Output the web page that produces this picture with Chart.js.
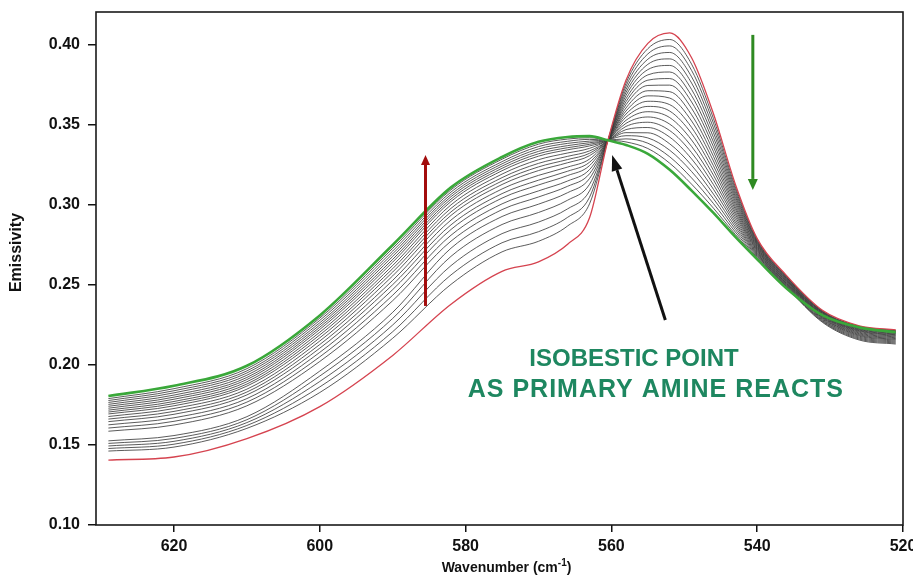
<!DOCTYPE html>
<html>
<head>
<meta charset="utf-8">
<script src="https://cdn.jsdelivr.net/npm/chart.js@4.4.1/dist/chart.umd.min.js"></script>
<style>
  html, body { margin: 0; padding: 0; background: #ffffff; }
  canvas { display: block; }
</style>
</head>
<body>
<canvas id="spectra" width="913" height="578"></canvas>
<script>
// Wavenumbers (cm-1) at which each emission spectrum was sampled, high to low.
const WAVENUMBERS = [629, 620, 610, 600, 590, 582, 575, 570, 566, 563, 560.5, 558, 555, 552, 549, 546, 543, 540, 536, 531, 526, 521];

// First spectrum of the series (red) and last spectrum (green).
const INITIAL_SPECTRUM = [0.1406, 0.1425, 0.1540, 0.1740, 0.2060, 0.2380, 0.2585, 0.2645, 0.2755, 0.2920, 0.3400, 0.3780, 0.4010, 0.4075, 0.3920, 0.3570, 0.3130, 0.2790, 0.2560, 0.2340, 0.2245, 0.2220];
const FINAL_SPECTRUM   = [0.1806, 0.1870, 0.1995, 0.2310, 0.2750, 0.3110, 0.3300, 0.3395, 0.3425, 0.3430, 0.3405, 0.3375, 0.3320, 0.3220, 0.3090, 0.2950, 0.2800, 0.2660, 0.2480, 0.2310, 0.2235, 0.2205];

// Intermediate scans recorded while the reaction proceeds.
const SCAN_01 = [0.1462, 0.1487, 0.1604, 0.1828, 0.2167, 0.2504, 0.2707, 0.2773, 0.2869, 0.3007, 0.3400, 0.3761, 0.3977, 0.4034, 0.3880, 0.3540, 0.3114, 0.2784, 0.2556, 0.2337, 0.2242, 0.2217];
const SCAN_02 = [0.1478, 0.1505, 0.1622, 0.1863, 0.2208, 0.2563, 0.2764, 0.2833, 0.2923, 0.3048, 0.3402, 0.3742, 0.3944, 0.3994, 0.3841, 0.3511, 0.3099, 0.2778, 0.2552, 0.2334, 0.2239, 0.2214];
const SCAN_03 = [0.1494, 0.1523, 0.1640, 0.1897, 0.2250, 0.2621, 0.2821, 0.2893, 0.2976, 0.3088, 0.3399, 0.3722, 0.3911, 0.3953, 0.3801, 0.3481, 0.3083, 0.2771, 0.2549, 0.2331, 0.2236, 0.2211];
const SCAN_04 = [0.1510, 0.1541, 0.1658, 0.1931, 0.2291, 0.2679, 0.2878, 0.2953, 0.3030, 0.3129, 0.3403, 0.3703, 0.3879, 0.3913, 0.3762, 0.3452, 0.3067, 0.2765, 0.2545, 0.2328, 0.2233, 0.2208];
const SCAN_05 = [0.1526, 0.1559, 0.1677, 0.1962, 0.2329, 0.2730, 0.2928, 0.3005, 0.3077, 0.3165, 0.3401, 0.3684, 0.3846, 0.3872, 0.3722, 0.3422, 0.3052, 0.2759, 0.2541, 0.2325, 0.2230, 0.2205];
const SCAN_06 = [0.1586, 0.1625, 0.1745, 0.2022, 0.2402, 0.2774, 0.2971, 0.3050, 0.3117, 0.3195, 0.3404, 0.3664, 0.3813, 0.3831, 0.3683, 0.3393, 0.3036, 0.2753, 0.2537, 0.2322, 0.2226, 0.2201];
const SCAN_07 = [0.1606, 0.1648, 0.1768, 0.2051, 0.2436, 0.2811, 0.3007, 0.3088, 0.3150, 0.3221, 0.3402, 0.3645, 0.3780, 0.3790, 0.3644, 0.3364, 0.3020, 0.2747, 0.2533, 0.2318, 0.2222, 0.2197];
const SCAN_08 = [0.1626, 0.1670, 0.1790, 0.2079, 0.2471, 0.2847, 0.3043, 0.3125, 0.3184, 0.3246, 0.3405, 0.3626, 0.3747, 0.3749, 0.3604, 0.3334, 0.3004, 0.2740, 0.2530, 0.2315, 0.2218, 0.2193];
const SCAN_09 = [0.1646, 0.1692, 0.1813, 0.2105, 0.2502, 0.2876, 0.3071, 0.3155, 0.3211, 0.3267, 0.3403, 0.3606, 0.3714, 0.3708, 0.3564, 0.3304, 0.2988, 0.2734, 0.2526, 0.2312, 0.2214, 0.2189];
const SCAN_10 = [0.1662, 0.1710, 0.1831, 0.2128, 0.2529, 0.2906, 0.3100, 0.3185, 0.3237, 0.3287, 0.3406, 0.3587, 0.3682, 0.3668, 0.3525, 0.3275, 0.2973, 0.2728, 0.2522, 0.2309, 0.2210, 0.2185];
const SCAN_11 = [0.1678, 0.1728, 0.1849, 0.2150, 0.2557, 0.2935, 0.3128, 0.3215, 0.3264, 0.3308, 0.3404, 0.3568, 0.3648, 0.3627, 0.3485, 0.3245, 0.2957, 0.2722, 0.2518, 0.2306, 0.2205, 0.2180];
const SCAN_12 = [0.1694, 0.1745, 0.1868, 0.2170, 0.2581, 0.2957, 0.3150, 0.3238, 0.3284, 0.3323, 0.3406, 0.3549, 0.3616, 0.3587, 0.3446, 0.3216, 0.2942, 0.2716, 0.2514, 0.2302, 0.2200, 0.2175];
const SCAN_13 = [0.1706, 0.1759, 0.1881, 0.2188, 0.2602, 0.2979, 0.3171, 0.3260, 0.3304, 0.3338, 0.3404, 0.3529, 0.3583, 0.3546, 0.3406, 0.3186, 0.2926, 0.2710, 0.2510, 0.2298, 0.2195, 0.2170];
const SCAN_14 = [0.1718, 0.1772, 0.1895, 0.2205, 0.2622, 0.3001, 0.3193, 0.3283, 0.3325, 0.3354, 0.3407, 0.3510, 0.3550, 0.3505, 0.3366, 0.3157, 0.2910, 0.2703, 0.2507, 0.2294, 0.2190, 0.2165];
const SCAN_15 = [0.1730, 0.1786, 0.1909, 0.2222, 0.2643, 0.3022, 0.3214, 0.3305, 0.3345, 0.3369, 0.3405, 0.3491, 0.3517, 0.3465, 0.3327, 0.3127, 0.2894, 0.2697, 0.2503, 0.2290, 0.2185, 0.2160];
const SCAN_16 = [0.1742, 0.1799, 0.1922, 0.2236, 0.2660, 0.3037, 0.3229, 0.3320, 0.3358, 0.3379, 0.3407, 0.3471, 0.3484, 0.3424, 0.3288, 0.3098, 0.2879, 0.2691, 0.2499, 0.2285, 0.2180, 0.2155];
const SCAN_17 = [0.1754, 0.1812, 0.1936, 0.2250, 0.2678, 0.3052, 0.3243, 0.3335, 0.3371, 0.3389, 0.3406, 0.3452, 0.3451, 0.3382, 0.3248, 0.3068, 0.2863, 0.2685, 0.2495, 0.2280, 0.2174, 0.2149];
const SCAN_18 = [0.1766, 0.1826, 0.1950, 0.2264, 0.2695, 0.3066, 0.3257, 0.3350, 0.3385, 0.3399, 0.3408, 0.3433, 0.3419, 0.3342, 0.3209, 0.3039, 0.2847, 0.2679, 0.2491, 0.2275, 0.2168, 0.2143];
const SCAN_19 = [0.1778, 0.1839, 0.1963, 0.2279, 0.2712, 0.3081, 0.3271, 0.3365, 0.3398, 0.3410, 0.3406, 0.3413, 0.3386, 0.3301, 0.3169, 0.3009, 0.2831, 0.2672, 0.2488, 0.2270, 0.2162, 0.2137];
const SCAN_20 = [0.1790, 0.1852, 0.1977, 0.2293, 0.2729, 0.3095, 0.3286, 0.3380, 0.3412, 0.3420, 0.3407, 0.3394, 0.3353, 0.3261, 0.3130, 0.2980, 0.2816, 0.2666, 0.2484, 0.2265, 0.2156, 0.2131];

const INTERMEDIATE_SCANS = [SCAN_01, SCAN_02, SCAN_03, SCAN_04, SCAN_05, SCAN_06, SCAN_07, SCAN_08, SCAN_09, SCAN_10,
                            SCAN_11, SCAN_12, SCAN_13, SCAN_14, SCAN_15, SCAN_16, SCAN_17, SCAN_18, SCAN_19, SCAN_20];

// Axis tick labels.
const X_TICKS = [620, 600, 580, 560, 540, 520];
const Y_TICKS = [0.10, 0.15, 0.20, 0.25, 0.30, 0.35, 0.40];

// Arrow annotations, in (wavenumber, emissivity) coordinates.
const RISE_ARROW = { from: [585.5, 0.2369], to: [585.5, 0.3313] };
const FALL_ARROW = { from: [540.6, 0.4063], to: [540.6, 0.3094] };
const POINT_ARROW = { from: [552.6, 0.2281], to: [559.9, 0.3313] };
const NOTE_LINES = [
  { text: 'ISOBESTIC POINT', at: [556.9, 0.2038], size: 24, spacing: 0 },
  { text: 'AS PRIMARY AMINE REACTS', at: [553.9, 0.1844], size: 25, spacing: 1 }
];

const FONT = "'Liberation Sans', Arial, Helvetica, sans-serif";

function toPoints(values) {
  return WAVENUMBERS.map((w, i) => ({ x: w, y: values[i] }));
}

const datasets = [];
// Index 0 is painted last, so the final spectrum sits on top.
datasets.push({ label: 'final', data: toPoints(FINAL_SPECTRUM), borderColor: '#3aa83a', borderWidth: 2.6 });
datasets.push({ label: 'initial', data: toPoints(INITIAL_SPECTRUM), borderColor: '#d5434f', borderWidth: 1.3 });
INTERMEDIATE_SCANS.forEach((scan, i) => {
  datasets.push({ label: 'scan ' + (i + 1), data: toPoints(scan), borderColor: 'rgba(55,55,55,0.82)', borderWidth: 1 });
});

function drawArrow(ctx, x1, y1, x2, y2, color, width, headLen, headWidth) {
  const ang = Math.atan2(y2 - y1, x2 - x1);
  const bx = x2 - Math.cos(ang) * headLen;
  const by = y2 - Math.sin(ang) * headLen;
  ctx.save();
  ctx.strokeStyle = color;
  ctx.fillStyle = color;
  ctx.lineWidth = width;
  ctx.beginPath();
  ctx.moveTo(x1, y1);
  ctx.lineTo(bx, by);
  ctx.stroke();
  const nx = -Math.sin(ang) * headWidth / 2;
  const ny = Math.cos(ang) * headWidth / 2;
  ctx.beginPath();
  ctx.moveTo(x2, y2);
  ctx.lineTo(bx + nx, by + ny);
  ctx.lineTo(bx - nx, by - ny);
  ctx.closePath();
  ctx.fill();
  ctx.restore();
}

const decorations = {
  id: 'decorations',
  afterDraw(chart) {
    const { ctx, chartArea: a, scales: { x, y } } = chart;
    const px = (p) => [x.getPixelForValue(p[0]), y.getPixelForValue(p[1])];

    // Plot frame
    ctx.save();
    ctx.strokeStyle = '#1a1a1a';
    ctx.lineWidth = 1.6;
    ctx.strokeRect(a.left, a.top, a.right - a.left, a.bottom - a.top);
    ctx.restore();

    // Arrows
    let f = px(RISE_ARROW.from), t = px(RISE_ARROW.to);
    drawArrow(ctx, f[0], f[1], t[0], t[1], '#a30d0d', 3, 10, 9);
    f = px(FALL_ARROW.from); t = px(FALL_ARROW.to);
    drawArrow(ctx, f[0], f[1], t[0], t[1], '#2f8a22', 3, 11, 10);
    f = px(POINT_ARROW.from); t = px(POINT_ARROW.to);
    drawArrow(ctx, f[0], f[1], t[0], t[1], '#111111', 3, 16, 11);

    // Annotation text
    NOTE_LINES.forEach(n => {
      ctx.save();
      ctx.fillStyle = '#1e8760';
      ctx.font = 'bold ' + n.size + 'px ' + FONT;
      ctx.letterSpacing = n.spacing + 'px';
      ctx.textAlign = 'center';
      ctx.textBaseline = 'middle';
      const p = px(n.at);
      ctx.fillText(n.text, p[0], p[1]);
      ctx.restore();
    });

    // Axis titles
    ctx.save();
    ctx.fillStyle = '#111';
    ctx.textBaseline = 'middle';
    const cx = (a.left + a.right) / 2 + 7;
    const ty = a.bottom + 43;
    ctx.font = 'bold 14px ' + FONT;
    const main = 'Wavenumber (cm';
    const sup = '-1';
    const tail = ')';
    const w1 = ctx.measureText(main).width;
    const w3 = ctx.measureText(tail).width;
    ctx.font = 'bold 10px ' + FONT;
    const w2 = ctx.measureText(sup).width;
    let sx = cx - (w1 + w2 + w3) / 2;
    ctx.font = 'bold 14px ' + FONT;
    ctx.textAlign = 'left';
    ctx.fillText(main, sx, ty);
    ctx.font = 'bold 10px ' + FONT;
    ctx.fillText(sup, sx + w1, ty - 5);
    ctx.font = 'bold 14px ' + FONT;
    ctx.fillText(tail, sx + w1 + w2, ty);

    ctx.translate(17, (a.top + a.bottom) / 2 - 16);
    ctx.rotate(-Math.PI / 2);
    ctx.textAlign = 'center';
    ctx.font = 'bold 16px ' + FONT;
    ctx.fillText('Emissivity', 0, 0);
    ctx.restore();
  }
};

new Chart(document.getElementById('spectra'), {
  type: 'line',
  data: { datasets },
  options: {
    responsive: false,
    animation: false,
    devicePixelRatio: 1,
    layout: { padding: { left: 0, top: 12, right: 10, bottom: 0 } },
    elements: {
      point: { radius: 0, hoverRadius: 0 },
      line: { cubicInterpolationMode: 'monotone', fill: false }
    },
    plugins: { legend: { display: false }, tooltip: { enabled: false } },
    scales: {
      x: {
        type: 'linear',
        reverse: true,
        min: 520,
        max: 630.7,
        afterFit(s) { s.height = 53; s.paddingLeft = 0; s.paddingRight = 0; },
        afterBuildTicks(s) { s.ticks = X_TICKS.map(v => ({ value: v })); },
        ticks: {
          font: { family: FONT, size: 16, weight: 'bold' },
          color: '#111',
          padding: 5,
          maxRotation: 0,
          autoSkip: false,
          callback: (v) => String(v)
        },
        grid: { display: true, drawOnChartArea: false, drawTicks: true, tickLength: 7, color: '#111', lineWidth: 1.5 },
        border: { display: false }
      },
      y: {
        type: 'linear',
        min: 0.10,
        max: 0.4206,
        afterFit(s) { s.width = 96; s.paddingTop = 0; s.paddingBottom = 0; },
        afterBuildTicks(s) { s.ticks = Y_TICKS.map(v => ({ value: v })); },
        ticks: {
          font: { family: FONT, size: 16, weight: 'bold' },
          color: '#111',
          padding: 8,
          autoSkip: false,
          callback: (v) => Number(v).toFixed(2)
        },
        grid: { display: true, drawOnChartArea: false, drawTicks: true, tickLength: 8, color: '#111', lineWidth: 1.5 },
        border: { display: false }
      }
    }
  },
  plugins: [decorations]
});
</script>
</body>
</html>
